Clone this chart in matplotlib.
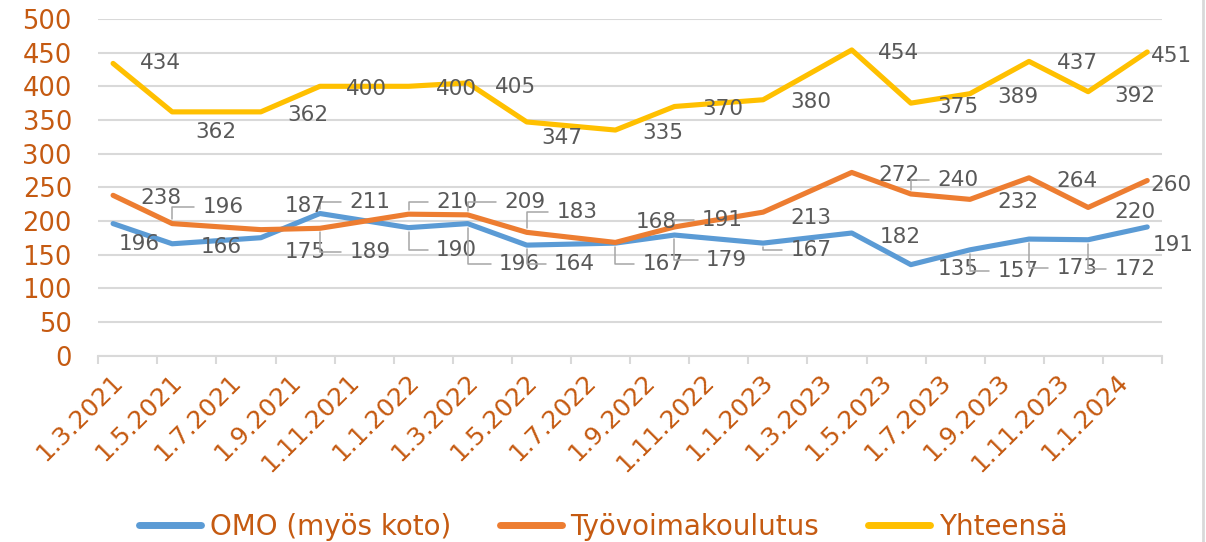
import numpy as np
import pandas as pd
import matplotlib
matplotlib.use('Agg')
import matplotlib.pyplot as plt
from matplotlib.lines import Line2D

plt.rcParams['font.family'] = ['DejaVu Sans']

# data (monthly points, some months missing)
dates = ['2021-03', '2021-05', '2021-08', '2021-10', '2022-01', '2022-03', '2022-05', '2022-08',
         '2022-10', '2023-01', '2023-04', '2023-06', '2023-08', '2023-10', '2023-12', '2024-02']
omo = [196, 166, 175, 211, 190, 196, 164, 167, 179, 167, 182, 135, 157, 173, 172, 191]
tyovoima = [238, 196, 187, 189, 210, 209, 183, 168, 191, 213, 272, 240, 232, 264, 220, 260]
yhteensa = [434, 362, 362, 400, 400, 405, 347, 335, 370, 380, 454, 375, 389, 437, 392, 451]
tick_labels = ['1.3.2021', '1.5.2021', '1.7.2021', '1.9.2021', '1.11.2021', '1.1.2022',
               '1.3.2022', '1.5.2022', '1.7.2022', '1.9.2022', '1.11.2022', '1.1.2023',
               '1.3.2023', '1.5.2023', '1.7.2023', '1.9.2023', '1.11.2023', '1.1.2024']
series_names = ['OMO (myös koto)', 'Työvoimakoulutus', 'Yhteensä']

# label offsets in pixels (dx right, dy down) and whether a leader line is drawn
off_omo = [(26, 18), (49, 1), (44, 12), (50, -13), (48, 20), (52, 38), (48, 17), (48, 19),
           (52, 23), (48, 5), (48, 2), (47, 2), (48, 19), (48, 27), (47, 27), (26, 16)]
lead_omo = [0, 0, 0, 1, 1, 1, 1, 1, 1, 1, 0, 0, 1, 1, 1, 0]
off_tyo = [(48, 1), (51, -19), (44, -26), (50, 22), (48, -14), (57, -15), (50, -22), (41, -22),
           (48, -9), (48, 4), (47, 1), (47, -16), (48, 1), (48, 1), (47, 3), (24, 2)]
lead_tyo = [0, 1, 0, 1, 1, 1, 1, 0, 1, 0, 0, 1, 0, 0, 0, 0]
off_yht = [(47, -2), (44, 18), (47, 1), (47, 1), (48, 1), (48, 2), (35, 14), (47, 1),
           (48, 1), (48, 0), (47, 1), (47, 2), (48, 1), (48, 0), (47, 2), (24, 2)]
lead_yht = [0] * 16

colors = ['#5B9BD5', '#ED7D31', '#FFC000']
axis_col = '#C55A11'
lab_col = '#595959'

d = pd.to_datetime(dates)
x = np.array((d.year - d.year[0]) * 12 + d.month - d.month[0])

fig = plt.figure(figsize=(12.06, 5.42), dpi=100)
ax = fig.add_axes([98.3 / 1206, 1 - 355.5 / 542, (1162 - 98.3) / 1206, (355.5 - 19) / 542])

for vals, offs, leads, c, name in zip([omo, tyovoima, yhteensa], [off_omo, off_tyo, off_yht],
                                       [lead_omo, lead_tyo, lead_yht], colors, series_names):
    ax.plot(x, vals, color=c, lw=3.7, solid_capstyle='round', solid_joinstyle='round',
            label=name, zorder=3)
    for xi, v, (dx, dy), ld in zip(x, vals, offs, leads):
        kw = {}
        if ld:
            kw['arrowprops'] = dict(arrowstyle='-', color='#A6A6A6', lw=1.1,
                                    connectionstyle='angle,angleA=0,angleB=90,rad=0',
                                    shrinkA=4, shrinkB=3)
        ax.annotate(str(v), xy=(xi, v), xytext=(dx, -dy), textcoords='offset pixels',
                    ha='center', va='center_baseline', fontsize=15.5, color=lab_col,
                    zorder=4, **kw)

ax.set_ylim(0, 500)
ax.set_yticks(np.arange(0, 501, 50))
ax.set_xlim(x[0] - 0.5, x[-1] + 0.5)
ax.set_xticks(np.arange(x[0] - 0.5, x[-1] + 0.6, 2))
ax.set_xticklabels([])
ax.set_xticks(np.arange(len(tick_labels)) * 2 + 0.5, tick_labels, minor=True)
for t in ax.get_xticklabels(minor=True):
    t.set_rotation(45)
    t.set_ha('right')
    t.set_va('top')

ax.grid(axis='y', color='#D9D9D9', lw=1.5, zorder=0)
ax.set_axisbelow(True)
for s in ['left', 'right', 'top']:
    ax.spines[s].set_visible(False)
ax.spines['bottom'].set_color('#D9D9D9')
ax.spines['bottom'].set_linewidth(1.5)
ax.tick_params(axis='y', length=0, pad=19, labelsize=18.5, labelcolor=axis_col)
ax.tick_params(axis='x', which='major', length=6, width=1.5, color='#D9D9D9', direction='out')
ax.tick_params(axis='x', which='minor', length=0, pad=10, labelsize=18, labelcolor=axis_col)

leg = fig.legend(loc='center', bbox_to_anchor=(0.5, 1 - 527 / 542), ncol=3, frameon=False,
                 fontsize=20, handlelength=2.25, handletextpad=0.3, columnspacing=1.75,
                 labelcolor=axis_col)
for h in leg.legend_handles:
    h.set_linewidth(5)

fig.add_artist(Line2D([1203 / 1206] * 2, [0, 1], color='#D9D9D9', lw=2))

fig.savefig('out.png', dpi=100)
